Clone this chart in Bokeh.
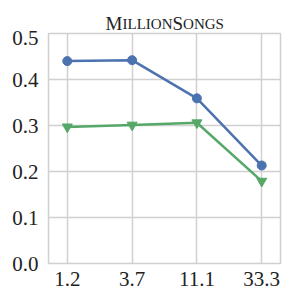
from bokeh.plotting import figure
from bokeh.models import Range1d, FixedTicker
from bokeh.layouts import column
from bokeh.core.properties import value
from bokeh.embed import file_html
from bokeh.resources import INLINE

x_labels = ["1.2", "3.7", "11.1", "33.3"]
blue_vals = [0.440, 0.442, 0.359, 0.213]
green_vals = [0.297, 0.301, 0.306, 0.179]
y_ticks = [0.0, 0.1, 0.2, 0.3, 0.4, 0.5]

# small-caps title "MillionSongs": pieces and letter sizes
title_parts = ["M", "ILLION", "S", "ONGS"]
title_sizes = ["19px", "15px", "19px", "15px"]

xs = list(range(len(x_labels)))
FONT = "'Liberation Serif', serif"
GRID = "#d0d0d0"
W = 282
TH = 30

# --- title strip (its frame is aligned with the main plot's frame: 48..280 px) ---
t = figure(width=W, height=TH, output_backend="svg", toolbar_location=None,
           x_range=Range1d(48, 280), y_range=Range1d(0, TH),
           min_border=0, x_axis_type=None, y_axis_type=None)
t.outline_line_color = None
t.grid.visible = False
t.background_fill_color = "white"
t.border_fill_color = "white"
starts = [105, 122, 172, 182.6]
for txt, xs0, fs in zip(title_parts, starts, title_sizes):
    t.text(x=[xs0], y=[7], text=[txt], text_align="left", text_baseline="alphabetic",
           text_font=value("Liberation Serif"), text_font_size=fs, text_color="#222222")

# --- main plot ---
p = figure(width=W, height=296 - TH, output_backend="svg", toolbar_location=None,
           x_range=Range1d(-0.29, 3.29), y_range=Range1d(0, 0.5),
           min_border_left=48, min_border_right=2, min_border_top=3, min_border_bottom=33)
p.background_fill_color = "white"
p.border_fill_color = "white"
p.outline_line_color = GRID
p.outline_line_width = 1.5

for ax in (p.xaxis[0], p.yaxis[0]):
    ax.axis_line_color = None
    ax.major_tick_line_color = None
    ax.minor_tick_line_color = None
    ax.major_tick_out = 0
    ax.major_label_text_font = FONT
    ax.major_label_text_font_size = "21px"
    ax.major_label_text_color = "#222222"

p.xaxis.ticker = FixedTicker(ticks=xs)
p.xaxis.major_label_overrides = {i: s for i, s in zip(xs, x_labels)}
p.xaxis.major_label_standoff = 8
p.yaxis.ticker = FixedTicker(ticks=y_ticks)
p.yaxis.major_label_overrides = {tk: f"{tk:.1f}" for tk in y_ticks}
p.yaxis.major_label_standoff = 10

p.xgrid.grid_line_color = GRID
p.ygrid.grid_line_color = GRID
p.xgrid.grid_line_width = 1.5
p.ygrid.grid_line_width = 1.5

BLUE = "#4c72b0"
GREEN = "#55a868"
p.line(xs, blue_vals, line_color=BLUE, line_width=2.5)
p.scatter(xs, blue_vals, marker="circle", size=9, color=BLUE)
p.line(xs, green_vals, line_color=GREEN, line_width=2.5)
p.scatter(xs, green_vals, marker="inverted_triangle", size=10, color=GREEN)

layout = column(t, p, spacing=0)
open("out.html", "w").write(file_html(layout, INLINE))
